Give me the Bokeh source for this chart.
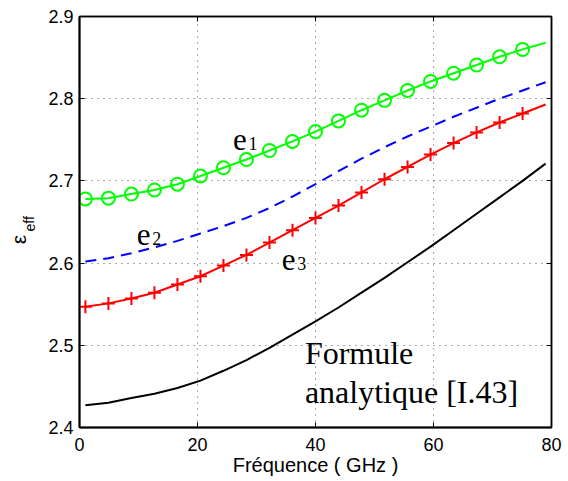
from bokeh.plotting import figure
from bokeh.layouts import row
from bokeh.models import Range1d, FixedTicker, Label, LinearAxis
from bokeh.core.properties import value
from bokeh.embed import file_html
from bokeh.resources import INLINE

# ---- data ----
freq = [1.0, 4.9, 8.8, 12.7, 16.6, 20.5, 24.4, 28.3, 32.2, 36.1, 40.0,
        43.9, 47.8, 51.7, 55.6, 59.5, 63.4, 67.3, 71.2, 75.1, 79.0]
e1 = [2.678, 2.679, 2.684, 2.689, 2.696, 2.706, 2.716, 2.726, 2.737, 2.748, 2.760,
      2.773, 2.786, 2.798, 2.810, 2.821, 2.831, 2.841, 2.851, 2.860, 2.868]
e2 = [2.602, 2.606, 2.612, 2.619, 2.627, 2.636, 2.645, 2.655, 2.667, 2.681, 2.696,
      2.712, 2.727, 2.741, 2.754, 2.766, 2.778, 2.789, 2.800, 2.810, 2.820]
e3 = [2.547, 2.551, 2.557, 2.564, 2.574, 2.584, 2.597, 2.610, 2.625, 2.640, 2.655,
      2.670, 2.686, 2.702, 2.717, 2.732, 2.746, 2.759, 2.771, 2.782, 2.793]
formule = [2.427, 2.430, 2.436, 2.441, 2.448, 2.457, 2.469, 2.482, 2.497, 2.513, 2.529,
           2.546, 2.564, 2.582, 2.601, 2.620, 2.640, 2.660, 2.680, 2.700, 2.721]
x_ticks = [0, 20, 40, 60, 80]
y_ticks = [2.4, 2.5, 2.6, 2.7, 2.8, 2.9]
y_tick_labels = ["2.4", "2.5", "2.6", "2.7", "2.8", "2.9"]

curve_names = ["e", "e", "e"]
curve_subs = ["1", "2", "3"]
x_title = "Fréquence ( GHz )"
y_title_main = "ε"
y_title_sub = "eff"

H = 480

# ---- narrow panel holding the y-axis title (ε with subscript eff) ----
side = figure(width=40, height=H, output_backend="svg", toolbar_location=None,
              title_location=None, x_axis_type=None, y_axis_type=None,
              x_range=Range1d(0, 40), y_range=Range1d(H, 0),
              min_border=0, min_border_left=0, min_border_right=0,
              min_border_top=0, min_border_bottom=0)
side.outline_line_color = None
side.background_fill_color = "white"
side.border_fill_color = "white"
side.grid.visible = False
side.text([18], [266], text=[y_title_main], text_font=value("Liberation Sans"),
          text_font_size="21px", text_align="left", text_baseline="alphabetic",
          angle=1.5708, text_color="black")
side.text([29], [251], text=[y_title_sub], text_font=value("Liberation Sans"),
          text_font_size="14px", text_align="left", text_baseline="alphabetic",
          angle=1.5708, text_color="black")

# ---- main plot ----
p = figure(width=525, height=H, output_backend="svg", toolbar_location=None,
           title_location=None,
           x_range=Range1d(0, 80), y_range=Range1d(2.4, 2.9),
           min_border_left=39, min_border_right=14, min_border_top=16, min_border_bottom=53)

p.background_fill_color = "white"
p.border_fill_color = "white"
p.outline_line_color = "black"
p.outline_line_width = 1.5
p.outline_line_alpha = 1.0

for ax in (p.xaxis[0], p.yaxis[0]):
    ax.axis_line_width = 2
    ax.axis_line_color = "black"
    ax.major_tick_in = 5
    ax.major_tick_out = 0
    ax.minor_tick_in = 0
    ax.minor_tick_out = 0
    ax.major_tick_line_color = "black"
    ax.major_label_text_font = "Liberation Sans"
    ax.major_label_text_font_size = "18px"
    ax.major_label_text_color = "black"

p.xaxis.ticker = FixedTicker(ticks=x_ticks)
p.yaxis.ticker = FixedTicker(ticks=y_ticks)
p.yaxis.major_label_overrides = dict(zip(y_ticks, y_tick_labels))
p.xaxis.major_label_standoff = 10
p.yaxis.major_label_standoff = 6

p.xaxis.axis_label = x_title
p.xaxis.axis_label_text_font = "Liberation Sans"
p.xaxis.axis_label_text_font_size = "20px"
p.xaxis.axis_label_text_font_style = "normal"
p.xaxis.axis_label_text_color = "black"
p.xaxis.axis_label_standoff = 0

# inward tick marks on the top and right edges (box style)
for loc, ticks in (("above", x_ticks), ("right", y_ticks)):
    box_ax = LinearAxis(ticker=FixedTicker(ticks=ticks),
                        major_tick_in=5, major_tick_out=0,
                        minor_tick_in=0, minor_tick_out=0,
                        major_label_standoff=0, major_label_text_font_size="1px",
                        major_label_text_alpha=0.0,
                        axis_line_color="black", axis_line_width=1.5,
                        major_tick_line_color="black")
    p.add_layout(box_ax, loc)

for g in (p.xgrid[0], p.ygrid[0]):
    g.grid_line_color = "black"
    g.grid_line_alpha = 0.65
    g.grid_line_dash = "1 5"
    g.grid_line_width = 1
p.xgrid.ticker = FixedTicker(ticks=x_ticks)
p.ygrid.ticker = FixedTicker(ticks=y_ticks)

# curves
p.line(freq, formule, line_color="black", line_width=2)
p.line(freq, e2, line_color="#0000ff", line_width=2, line_dash="11 7")
p.line(freq, e3, line_color="#ff0000", line_width=2)
p.scatter(freq[:-1], e3[:-1], marker="cross", size=13, line_color="#ff0000", line_width=2)
p.line(freq, e1, line_color="#00ff00", line_width=2)
p.scatter(freq[:-1], e1[:-1], marker="circle", size=13, fill_color=None,
          line_color="#00ff00", line_width=2)

# curve labels e1, e2, e3
lab_x = [26.0, 9.7, 34.3]
lab_y = [2.750, 2.635, 2.6045]
p.text(lab_x, lab_y, text=curve_names, text_font=value("Liberation Serif"),
       text_font_size="31px", text_baseline="alphabetic", text_align="left", text_color="black")
p.text(lab_x, lab_y, text=curve_subs, text_font=value("Liberation Serif"),
       text_font_size="18px", text_baseline="alphabetic", text_align="left", text_color="black",
       x_offset=15.5, y_offset=4)

# analytic formula label
p.add_layout(Label(x=38.2, y=2.4903, text="Formule", text_font="Liberation Serif",
                   text_font_size="32px", text_baseline="alphabetic", text_color="black"))
p.add_layout(Label(x=38.2, y=2.4433, text="analytique [I.43]", text_font="Liberation Serif",
                   text_font_size="32px", text_baseline="alphabetic", text_color="black"))

layout = row(side, p)
open("out.html", "w").write(file_html(layout, INLINE))
